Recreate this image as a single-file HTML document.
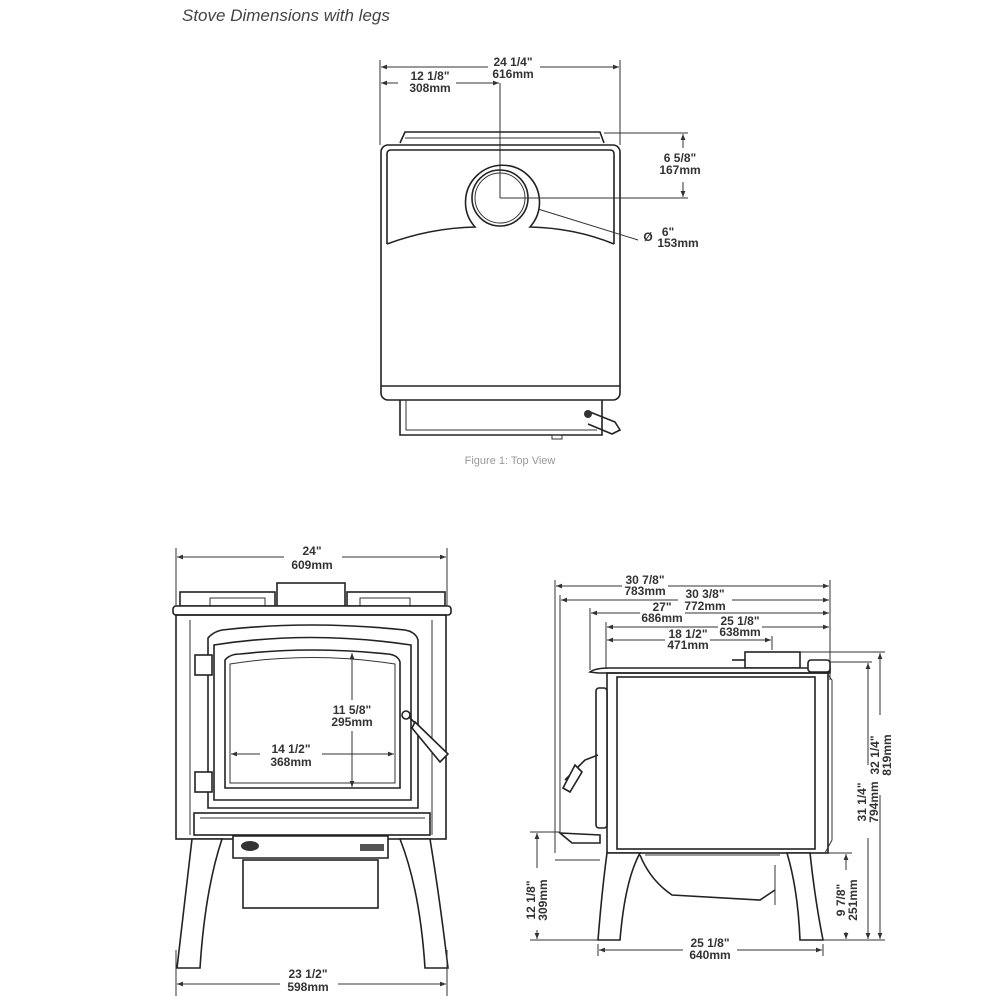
<!DOCTYPE html>
<html><head><meta charset="utf-8"><style>
html,body{margin:0;padding:0;background:#fff}
svg{display:block}
.t{font-family:"Liberation Sans",sans-serif;font-weight:bold;font-size:12px;fill:#333;text-anchor:middle}
.l{stroke:#333;stroke-width:1;fill:none}
.s{stroke:#222;stroke-width:1.6;fill:none}
.f{stroke:#222;stroke-width:1.6;fill:#fff}
</style></head><body>
<svg width="1000" height="1000" viewBox="0 0 1000 1000">
<defs>
<marker id="a" viewBox="0 0 10 10" refX="10" refY="5" markerWidth="8" markerHeight="6" orient="auto-start-reverse"><path d="M0,1 L10,5 L0,9 z" fill="#333"/></marker>
</defs>
<text x="182" y="21" font-family="Liberation Sans,sans-serif" font-style="italic" font-size="17" fill="#444">Stove Dimensions with legs</text>

<!-- TOP VIEW -->
<g>
<line class="l" x1="380" y1="60" x2="380" y2="145"/>
<line class="l" x1="620" y1="60" x2="620" y2="145"/>
<line class="l" x1="381" y1="67" x2="488" y2="67" marker-start="url(#a)"/>
<line class="l" x1="540" y1="67" x2="619" y2="67" marker-end="url(#a)"/>
<text class="t" x="513" y="66">24 1/4"</text><text class="t" x="513" y="78">616mm</text>
<line class="l" x1="381" y1="83" x2="398" y2="83" marker-start="url(#a)"/>
<line class="l" x1="456" y1="83" x2="499" y2="83" marker-end="url(#a)"/>
<text class="t" x="430" y="80">12 1/8"</text><text class="t" x="430" y="92">308mm</text>
<line class="l" x1="500" y1="83" x2="500" y2="198"/>
<path class="s" d="M400,143 L405,132 L600,132 L604,143"/>
<line class="l" x1="405" y1="138" x2="600" y2="138"/>
<rect class="s" x="381" y="145" width="239" height="255" rx="7"/>
<line class="s" x1="381" y1="386" x2="620" y2="386"/>
<path class="s" d="M387,244 L387,154 Q387,150 391,150 L610,150 Q614,150 614,154 L614,244"/>
<path class="s" d="M387,244 Q430,228 475,227 A37,37 0 1 1 530,227 Q575,228 614,244"/>
<circle class="s" cx="500" cy="198" r="28"/>
<circle class="l" cx="500" cy="198" r="25"/>
<line class="l" x1="500" y1="198" x2="688" y2="198"/>
<line class="l" x1="604" y1="133" x2="688" y2="133"/>
<line class="l" x1="683" y1="148" x2="683" y2="134" marker-end="url(#a)"/>
<line class="l" x1="683" y1="182" x2="683" y2="197" marker-end="url(#a)"/>
<text class="t" x="680" y="162">6 5/8"</text><text class="t" x="680" y="174">167mm</text>
<line class="l" x1="538" y1="209" x2="638" y2="240"/>
<text class="t" x="648" y="241">Ø</text><text class="t" x="668" y="236">6"</text><text class="t" x="678" y="247">153mm</text>
<path class="s" d="M400,400 L400,435 L602,435 L602,400"/>
<path class="l" d="M406,400 L406,430 L597,430"/>
<path class="s" d="M590,412 L615,422 L620,430 L612,434 L588,424" fill="#eee"/>
<circle cx="588" cy="414" r="4" fill="#333"/>
<rect class="l" x="552" y="435" width="10" height="4"/>
<text x="510" y="464" font-family="Liberation Sans,sans-serif" font-size="11" fill="#999" text-anchor="middle">Figure 1: Top View</text>
</g>

<!-- FRONT VIEW -->
<g>
<line class="l" x1="176" y1="548" x2="176" y2="606"/>
<line class="l" x1="447" y1="548" x2="447" y2="606"/>
<line class="l" x1="177" y1="557" x2="284" y2="557" marker-start="url(#a)"/>
<line class="l" x1="342" y1="557" x2="446" y2="557" marker-end="url(#a)"/>
<text class="t" x="312" y="555">24"</text><text class="t" x="312" y="569">609mm</text>
<rect class="f" x="277" y="583" width="68" height="23"/>
<rect class="f" x="180" y="592" width="95" height="14"/>
<rect class="f" x="347" y="592" width="98" height="14"/>
<rect class="l" x="210" y="598" width="55" height="8"/><rect class="l" x="360" y="598" width="50" height="8"/>
<rect class="f" x="173" y="606" width="278" height="9" rx="3"/>
<rect class="s" x="176" y="615" width="270" height="224"/>
<line class="l" x1="190" y1="620" x2="190" y2="835"/><line class="l" x1="432" y1="620" x2="432" y2="835"/>
<path class="s" d="M208,808 L208,638 Q213,632 222,630 Q310,620 405,630 Q416,632 418,640 L418,808 Z"/>
<path class="s" d="M214,800 L214,645 Q310,630 411,645 L411,800 Z"/>
<path class="s" d="M225,788 L225,660 Q230,654 240,654 Q312,646 388,654 Q398,655 400,662 L400,788 Z"/>
<path class="l" d="M230,783 L230,664 Q312,651 395,664 L395,783 Z"/>
<rect class="f" x="195" y="655" width="17" height="20"/><rect class="f" x="195" y="772" width="17" height="20"/>
<line class="s" x1="408" y1="716" x2="418" y2="726"/>
<path class="f" d="M415,722 L448,754 L440,762 L412,728 Z"/>
<circle class="f" cx="406" cy="715" r="4"/>
<line class="l" x1="352" y1="653" x2="352" y2="700" marker-start="url(#a)"/>
<line class="l" x1="352" y1="731" x2="352" y2="787" marker-end="url(#a)"/>
<text class="t" x="352" y="714">11 5/8"</text><text class="t" x="352" y="726">295mm</text>
<line class="l" x1="231" y1="754" x2="260" y2="754" marker-start="url(#a)"/>
<line class="l" x1="322" y1="754" x2="394" y2="754" marker-end="url(#a)"/>
<text class="t" x="291" y="753">14 1/2"</text><text class="t" x="291" y="766">368mm</text>
<rect class="s" x="194" y="813" width="236" height="22"/>
<line class="l" x1="200" y1="818" x2="425" y2="818"/>
<path class="f" d="M233,836 L388,836 L388,858 L233,858 Z"/>
<ellipse cx="250" cy="846" rx="9" ry="5" fill="#333"/>
<rect x="360" y="844" width="24" height="7" fill="#555"/>
<rect class="s" x="243" y="860" width="135" height="48"/>
<path class="f" d="M192,839 L222,839 Q205,890 200,968 L177,968 Q185,900 192,839 Z"/>
<path class="f" d="M400,839 L430,839 Q440,900 448,968 L425,968 Q420,890 400,839 Z"/>
<line class="l" x1="176" y1="950" x2="176" y2="996"/><line class="l" x1="447" y1="950" x2="447" y2="996"/>
<line class="l" x1="177" y1="984" x2="280" y2="984" marker-start="url(#a)"/>
<line class="l" x1="338" y1="984" x2="446" y2="984" marker-end="url(#a)"/>
<text class="t" x="308" y="978">23 1/2"</text><text class="t" x="308" y="991">598mm</text>
</g>

<!-- SIDE VIEW -->
<g>
<line class="l" x1="555" y1="580" x2="555" y2="853"/>
<line class="l" x1="560" y1="595" x2="560" y2="833"/>
<line class="l" x1="590" y1="608" x2="590" y2="670"/>
<line class="l" x1="606" y1="622" x2="606" y2="670"/>
<line class="l" x1="830" y1="580" x2="830" y2="680"/>
<line class="l" x1="772" y1="636" x2="772" y2="650"/>
<line class="l" x1="556" y1="586" x2="622" y2="586" marker-start="url(#a)"/>
<line class="l" x1="668" y1="586" x2="829" y2="586" marker-end="url(#a)"/>
<text class="t" x="645" y="584">30 7/8"</text><text class="t" x="645" y="595">783mm</text>
<line class="l" x1="561" y1="600" x2="678" y2="600" marker-start="url(#a)"/>
<line class="l" x1="732" y1="600" x2="829" y2="600" marker-end="url(#a)"/>
<text class="t" x="705" y="598">30 3/8"</text><text class="t" x="705" y="610">772mm</text>
<line class="l" x1="591" y1="613" x2="640" y2="613" marker-start="url(#a)"/>
<line class="l" x1="685" y1="613" x2="829" y2="613" marker-end="url(#a)"/>
<text class="t" x="662" y="611">27"</text><text class="t" x="662" y="622">686mm</text>
<line class="l" x1="607" y1="627" x2="718" y2="627" marker-start="url(#a)"/>
<line class="l" x1="762" y1="627" x2="829" y2="627" marker-end="url(#a)"/>
<text class="t" x="740" y="625">25 1/8"</text><text class="t" x="740" y="636">638mm</text>
<line class="l" x1="607" y1="640" x2="665" y2="640" marker-start="url(#a)"/>
<line class="l" x1="710" y1="640" x2="771" y2="640" marker-end="url(#a)"/>
<text class="t" x="688" y="638">18 1/2"</text><text class="t" x="688" y="649">471mm</text>
<rect class="f" x="745" y="652" width="55" height="16"/>
<line class="s" x1="732" y1="660" x2="745" y2="660"/>
<line class="l" x1="800" y1="652" x2="885" y2="652"/>
<line class="l" x1="815" y1="662" x2="872" y2="662"/>
<path class="f" d="M590,672 Q595,668 610,668 L830,668 L830,673 L598,673 Z"/>
<rect class="f" x="808" y="660" width="22" height="12" rx="3"/>
<rect class="s" x="607" y="673" width="221" height="180"/>
<rect class="s" x="617" y="677" width="198" height="172"/>
<path class="l" d="M828,675 L832,680 L832,840 L825,853"/>
<rect class="f" x="596" y="688" width="11" height="140" rx="3"/>
<path class="s" d="M598,755 L585,760 L565,780"/>
<path class="f" d="M575,765 L563,788 L570,792 L582,772 Z"/>
<path class="s" d="M560,833 L600,835 L600,843 L572,843 Z"/>
<line class="l" x1="530" y1="832" x2="560" y2="832"/>
<line class="l" x1="555" y1="860" x2="600" y2="860"/>
<path class="f" d="M607,853 L640,853 Q625,880 620,940 L598,940 Q602,890 607,853 Z"/>
<path class="f" d="M787,853 L810,853 Q815,900 823,940 L800,940 Q798,890 787,853 Z"/>
<path class="s" d="M640,855 Q650,880 672,895 L760,900 L775,890"/>
<path class="l" d="M645,855 L780,855"/>
<line class="l" x1="775" y1="865" x2="775" y2="905"/>
<line class="l" x1="598" y1="944" x2="598" y2="956"/><line class="l" x1="823" y1="944" x2="823" y2="956"/>
<line class="l" x1="599" y1="950" x2="683" y2="950" marker-start="url(#a)"/>
<line class="l" x1="737" y1="950" x2="822" y2="950" marker-end="url(#a)"/>
<text class="t" x="710" y="947">25 1/8"</text><text class="t" x="710" y="959">640mm</text>
<line class="l" x1="828" y1="853" x2="852" y2="853"/>
<line class="l" x1="823" y1="940" x2="885" y2="940"/>
<line class="l" x1="530" y1="940" x2="598" y2="940"/>
<line class="l" x1="880" y1="715" x2="880" y2="653" marker-end="url(#a)"/>
<line class="l" x1="880" y1="795" x2="880" y2="939" marker-end="url(#a)"/>
<text class="t" transform="translate(881,755) rotate(-90)" y="-2">32 1/4"</text><text class="t" transform="translate(881,755) rotate(-90)" y="10">819mm</text>
<line class="l" x1="868" y1="765" x2="868" y2="663" marker-end="url(#a)"/>
<line class="l" x1="868" y1="838" x2="868" y2="939" marker-end="url(#a)"/>
<text class="t" transform="translate(868,802) rotate(-90)" y="-2">31 1/4"</text><text class="t" transform="translate(868,802) rotate(-90)" y="10">794mm</text>
<line class="l" x1="846" y1="870" x2="846" y2="854" marker-end="url(#a)"/>
<line class="l" x1="846" y1="932" x2="846" y2="939" marker-end="url(#a)"/>
<text class="t" transform="translate(847,900) rotate(-90)" y="-2">9 7/8"</text><text class="t" transform="translate(847,900) rotate(-90)" y="10">251mm</text>
<line class="l" x1="537" y1="868" x2="537" y2="833" marker-end="url(#a)"/>
<line class="l" x1="537" y1="930" x2="537" y2="939" marker-end="url(#a)"/>
<text class="t" transform="translate(537,900) rotate(-90)" y="-2">12 1/8"</text><text class="t" transform="translate(537,900) rotate(-90)" y="10">309mm</text>
</g>
</svg>
</body></html>
